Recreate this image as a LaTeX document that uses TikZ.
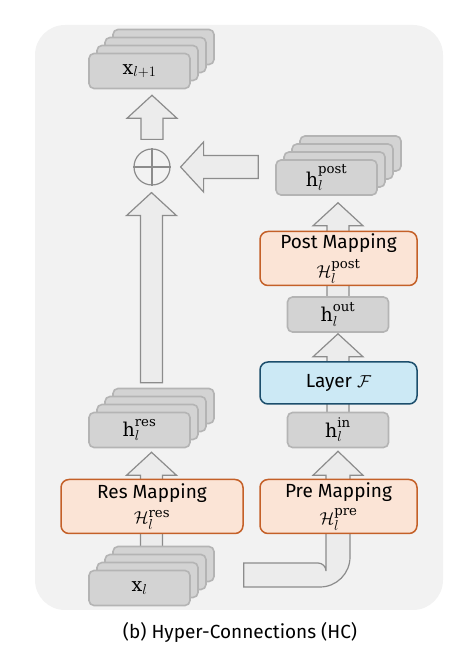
\documentclass[tikz,border=0pt]{standalone}
\usepackage{fontspec}
\setmainfont{Fira Sans}
\setmathrm{DejaVu Serif}
\usetikzlibrary{positioning,calc,backgrounds}
\definecolor{panelGray}{RGB}{242,242,242}
\definecolor{stackFill}{RGB}{211,211,211}
\definecolor{stackLine}{RGB}{180,180,180}
\definecolor{arrowFill}{RGB}{236,236,236}
\definecolor{arrowLine}{RGB}{140,140,140}
\definecolor{mapFill}{RGB}{251,228,214}
\definecolor{mapLine}{RGB}{196,96,40}
\definecolor{layerFill}{RGB}{204,233,245}
\definecolor{layerLine}{RGB}{28,78,108}

% stack of four hidden-state blocks: name, centre x, centre y, label
\newcommand{\hcstack}[4]{%
  \coordinate (#1-c) at (#2,#3);
  \foreach \k in {3,2,1}
    \node[stackbox] (#1-\k) at ($(#1-c)+(8*\k-12,8*\k-12)$) {};
  \node[stackbox] (#1) at ($(#1-c)+(-12,-12)$) {#4};}

% wide block arrows
\newcommand{\upblock}[2]{%
  \draw[blockarrow] let \p1=#1, \p2=#2 in
    (\x1-11pt,\y1) -- (\x1-11pt,\y2-23pt) -- (\x1-25pt,\y2-23pt) -- (\x1,\y2)
    -- (\x1+25pt,\y2-23pt) -- (\x1+11pt,\y2-23pt) -- (\x1+11pt,\y1) -- cycle;}
\newcommand{\leftblock}[2]{%
  \draw[blockarrow] let \p1=#1, \p2=#2 in
    (\x1,\y1-11.5pt) -- (\x2+23pt,\y1-11.5pt) -- (\x2+23pt,\y1-25pt) -- (\x2,\y1)
    -- (\x2+23pt,\y1+25pt) -- (\x2+23pt,\y1+11.5pt) -- (\x1,\y1+11.5pt) -- cycle;}

\begin{document}
\begin{tikzpicture}[x=1pt, y=1pt,
  every node/.style={font=\fontsize{19}{19}\selectfont},
  stackbox/.style={draw=stackLine, fill=stackFill, line width=1.6pt, rounded corners=5pt,
    minimum width=101pt, minimum height=35pt, inner sep=0pt},
  mapbox/.style={draw=mapLine, fill=mapFill, line width=1.5pt, rounded corners=8pt,
    minimum width=157pt, minimum height=54pt, inner sep=0pt, align=center},
  layerbox/.style={draw=layerLine, fill=layerFill, line width=1.5pt, rounded corners=8pt,
    minimum width=157pt, minimum height=42pt, inner sep=0pt},
  blockarrow/.style={draw=arrowLine, fill=arrowFill, line width=1.2pt, line join=miter},
  sumnode/.style={circle, draw=arrowLine, line width=1.2pt, minimum size=36pt, inner sep=0pt}]
  \useasboundingbox (0,0) rectangle (470,660);
  \begin{scope}[on background layer]
    \fill[panelGray, rounded corners=30pt] (35,50) rectangle (443,635);
  \end{scope}

  % left column
  \hcstack{xnext}{151.5}{601}{$\mathrm{x}_{l+1}$}
  \node[sumnode] (sum) at (152,493) {};
  \draw[arrowLine, line width=1.2pt] (sum.north) -- (sum.south) (sum.west) -- (sum.east);
  \hcstack{hres}{151.5}{242}{$\mathrm{h}_l^{\mathrm{res}}$}
  \node[mapbox, minimum width=182pt] (res) at (152,153.5) {Res Mapping\\[6pt]$\mathcal{H}_l^{\mathrm{res}}$};
  \hcstack{xl}{151.5}{84}{$\mathrm{x}_l$}

  % right column
  \hcstack{hpost}{338.5}{494.5}{$\mathrm{h}_l^{\mathrm{post}}$}
  \node[mapbox] (post) at (338.5,401.5) {Post Mapping\\[6pt]$\mathcal{H}_l^{\mathrm{post}}$};
  \node[stackbox] (hout) at (338,345.5) {$\mathrm{h}_l^{\mathrm{out}}$};
  \node[layerbox] (layer) at (338.5,277) {Layer $\mathcal{F}$};
  \node[stackbox] (hin) at (338,230) {$\mathrm{h}_l^{\mathrm{in}}$};
  \node[mapbox] (pre) at (338.5,153.5) {Pre Mapping\\[6pt]$\mathcal{H}_l^{\mathrm{pre}}$};

  \node (caption) at (240,28) {(b) Hyper-Connections (HC)};

  % arrows behind the blocks
  \begin{scope}[on background layer]
    \upblock{(xl-c)}{($(hres.south)+(0,-4)$)}
    \upblock{($(hres-3.north -| hres-c)+(0,5)$)}{($(sum.south)+(0,-7)$)}
    \upblock{($(sum.north)+(0,9)$)}{($(xnext.south)+(0,-6)$)}
    \leftblock{($(hpost.west |- sum)+(-17,0)$)}{($(sum.east)+(10,0)$)}
    \upblock{(hin)}{($(hout.south)+(0,-1)$)}
    \upblock{(hout)}{($(hpost.south)+(0,-7)$)}
    \draw[blockarrow] let \p1=($(xl-3.east |- xl-c)+(29,1)$), \p2=($(hin.south)+(0,-3)$) in
      (\x1,\y1-12pt) -- (\x2-18pt,\y1-12pt) arc[start angle=-90, end angle=0, radius=30pt]
      -- (\x2+12pt,\y2-24pt) -- (\x2+25pt,\y2-24pt) -- (\x2,\y2) -- (\x2-25pt,\y2-24pt)
      -- (\x2-12pt,\y2-24pt) -- (\x2-12pt,\y1+4pt) arc[start angle=0, end angle=90, radius=8pt]
      -- (\x1,\y1+12pt) -- cycle;
  \end{scope}
\end{tikzpicture}
\end{document}
